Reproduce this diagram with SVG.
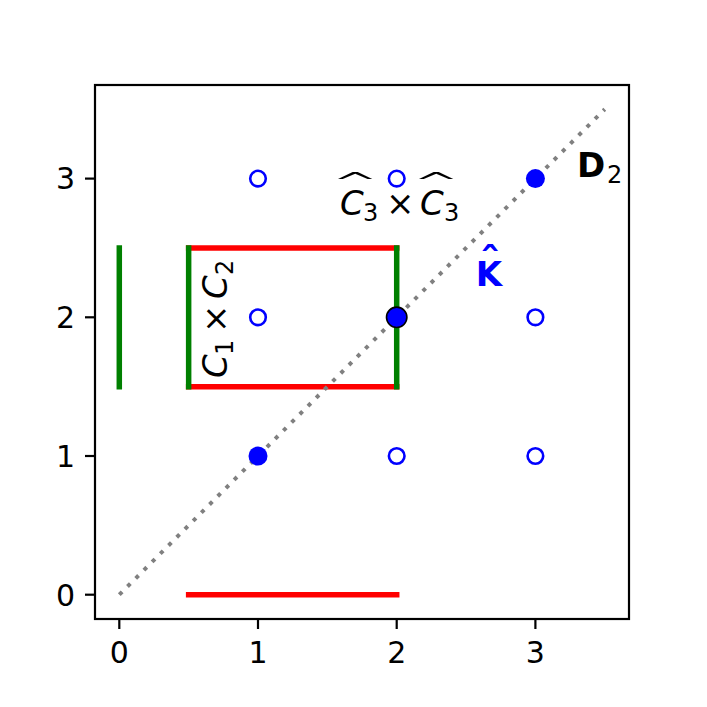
<svg xmlns="http://www.w3.org/2000/svg" width="707" height="707" viewBox="0 0 707 707">
<style>
  text { font-family: "DejaVu Sans", "Liberation Sans", sans-serif; }
  .tick { stroke: #000; stroke-width: 2.2; }
  .tl { font-size: 30px; fill: #000; }
  .red { stroke: #ff0000; stroke-width: 5.5; stroke-linecap: square; fill: none; }
  .green { stroke: #008000; stroke-width: 5.5; stroke-linecap: square; fill: none; }
  .open { fill: none; stroke: #0000ff; stroke-width: 2.6; }
  .full { fill: #0000ff; }
  .math { font-size: 34px; fill: #000; }
  .sub { font-size: 24px; }
  .it { font-style: italic; }
  .hat { font-size: 34px; fill: #000; font-weight: 300; }
</style>
<rect x="0" y="0" width="707" height="707" fill="#fff"/>

<g id="axes">
  <rect x="95" y="85" width="534" height="534" fill="none" stroke="#000" stroke-width="2.2"/>
  <line class="tick" x1="119.3" y1="619" x2="119.3" y2="629"/>
  <line class="tick" x1="258" y1="619" x2="258" y2="629"/>
  <line class="tick" x1="396.7" y1="619" x2="396.7" y2="629"/>
  <line class="tick" x1="535.4" y1="619" x2="535.4" y2="629"/>
  <line class="tick" x1="85" y1="594.7" x2="95" y2="594.7"/>
  <line class="tick" x1="85" y1="456" x2="95" y2="456"/>
  <line class="tick" x1="85" y1="317.3" x2="95" y2="317.3"/>
  <line class="tick" x1="85" y1="178.6" x2="95" y2="178.6"/>
  <text class="tl" x="119.3" y="663" text-anchor="middle">0</text>
  <text class="tl" x="258" y="663" text-anchor="middle">1</text>
  <text class="tl" x="396.7" y="663" text-anchor="middle">2</text>
  <text class="tl" x="535.4" y="663" text-anchor="middle">3</text>
  <text class="tl" x="75" y="605.5" text-anchor="end">0</text>
  <text class="tl" x="75" y="466.8" text-anchor="end">1</text>
  <text class="tl" x="75" y="328.1" text-anchor="end">2</text>
  <text class="tl" x="75" y="189.4" text-anchor="end">3</text>
</g>

<g id="segments">
  <line class="red" x1="188.65" y1="594.7" x2="396.7" y2="594.7"/>
  <line class="green" x1="119.3" y1="247.95" x2="119.3" y2="386.65"/>
  <line class="red" x1="188.65" y1="247.95" x2="396.7" y2="247.95"/>
  <line class="red" x1="188.65" y1="386.65" x2="396.7" y2="386.65"/>
  <line class="green" x1="188.65" y1="247.95" x2="188.65" y2="386.65"/>
  <line class="green" x1="396.7" y1="247.95" x2="396.7" y2="386.65"/>
</g>

<g id="diagonal">
  <line x1="119.3" y1="594.7" x2="604.75" y2="109.25" stroke="#808080" stroke-width="4" stroke-dasharray="4 7.6"/>
</g>

<g id="points">
  <circle class="open" cx="258" cy="178.6" r="7.8"/>
  <circle class="open" cx="396.7" cy="178.6" r="7.8"/>
  <circle class="open" cx="258" cy="317.3" r="7.8"/>
  <circle class="open" cx="535.4" cy="317.3" r="7.8"/>
  <circle class="open" cx="396.7" cy="456" r="7.8"/>
  <circle class="open" cx="535.4" cy="456" r="7.8"/>
  <circle class="full" cx="258" cy="456" r="9.5"/>
  <circle class="full" cx="535.4" cy="178.6" r="9.5"/>
  <circle cx="396.7" cy="317.3" r="10.2" fill="#0000ff" stroke="#000" stroke-width="1.6"/>
</g>

<g id="label-D2">
  <text x="577" y="177" font-size="34" font-weight="bold" fill="#000">D</text>
  <text x="607" y="183" font-size="24" fill="#000">2</text>
</g>

<g id="label-Khat">
  <text x="489" y="286" font-size="34" font-weight="bold" fill="#0000ff" text-anchor="middle">K</text>
  <text transform="translate(490,274) scale(1.25,1.1)" x="0" y="0" font-size="34" font-weight="bold" fill="#0000ff" text-anchor="middle">ˆ</text>
</g>

<g id="label-C3xC3">
  <text class="math" y="215"><tspan class="it" x="340">C</tspan><tspan class="sub" x="363" y="221">3</tspan><tspan x="386" y="215">×</tspan><tspan class="it" x="420">C</tspan><tspan class="sub" x="444" y="221">3</tspan></text>
  <text class="hat" transform="translate(355,202) scale(3.6,1.1)" x="0" y="0" text-anchor="middle">ˆ</text>
  <text class="hat" transform="translate(436,202) scale(3.6,1.1)" x="0" y="0" text-anchor="middle">ˆ</text>
</g>

<g id="label-C1xC2">
  <text class="math" transform="translate(227,378) rotate(-90)" y="0"><tspan class="it" x="0">C</tspan><tspan class="sub" x="23" y="6">1</tspan><tspan x="45" y="0">×</tspan><tspan class="it" x="79">C</tspan><tspan class="sub" x="103" y="6">2</tspan></text>
</g>
</svg>
